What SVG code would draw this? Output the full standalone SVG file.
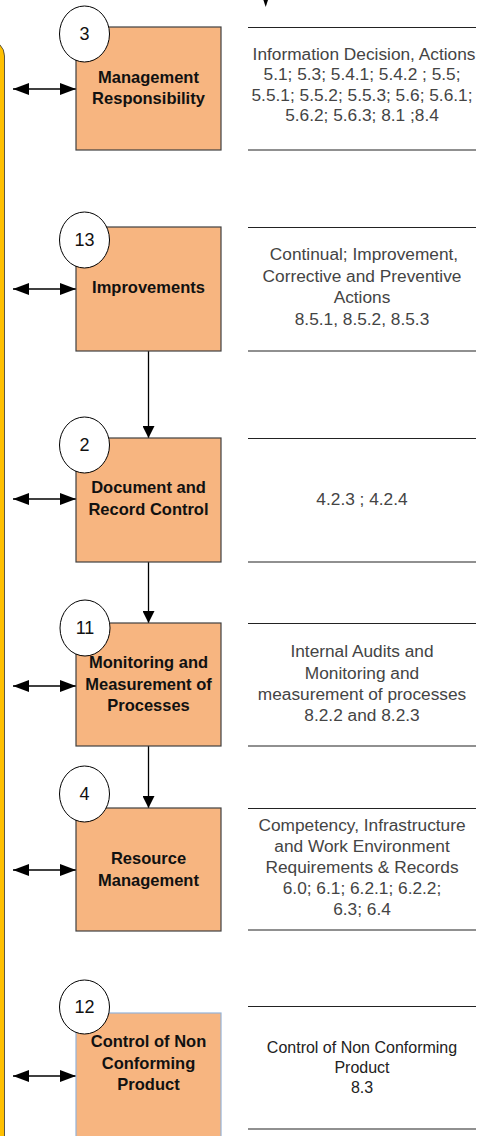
<svg xmlns="http://www.w3.org/2000/svg" width="483" height="1136" viewBox="0 0 483 1136">
<style>
.box{fill:#F7B580;stroke:#404040;stroke-width:1.2}
.num{fill:#fff;stroke:#000;stroke-width:1}
.numt{font-family:"Liberation Sans",Arial,sans-serif;font-size:18px;fill:#111;text-anchor:middle}
.bt{font-family:"Liberation Sans",Arial,sans-serif;font-size:16.5px;font-weight:bold;fill:#111;text-anchor:middle}
.rt{font-family:"Liberation Sans",Arial,sans-serif;font-size:17.3px;fill:#444;text-anchor:middle}
.rt2{font-family:"Liberation Sans",Arial,sans-serif;font-size:16px;fill:#222;text-anchor:middle}
.sep{stroke:#222;stroke-width:1.2}
.con{stroke:#000;stroke-width:1.3;fill:none}
</style>
<defs>
<marker id="ah" viewBox="0 0 16 12" refX="16" refY="6" markerWidth="16" markerHeight="12" markerUnits="userSpaceOnUse" orient="auto-start-reverse">
<path d="M0,0 L16,6 L0,12 Z" fill="#000"/>
</marker>
<marker id="av" viewBox="0 0 12 12" refX="12" refY="6" markerWidth="12" markerHeight="12" markerUnits="userSpaceOnUse" orient="auto">
<path d="M0,0 L12,6 L0,12 Z" fill="#000"/>
</marker>
</defs>
<rect id="frame" x="-60" y="40" width="64.5" height="1150" rx="16" fill="#FFC000" stroke="#333" stroke-width="0.8"/>
<g id="connectors">
<path d="M265.7,-5 V1" class="con"/>
<path d="M263.4,0 L268,0 L265.7,7 Z" fill="#000"/>
<line x1="13" y1="89" x2="76" y2="89" class="con" marker-start="url(#ah)" marker-end="url(#ah)"/>
<line x1="13" y1="289" x2="76" y2="289" class="con" marker-start="url(#ah)" marker-end="url(#ah)"/>
<line x1="13" y1="499" x2="76" y2="499" class="con" marker-start="url(#ah)" marker-end="url(#ah)"/>
<line x1="13" y1="686" x2="76" y2="686" class="con" marker-start="url(#ah)" marker-end="url(#ah)"/>
<line x1="13" y1="870" x2="76" y2="870" class="con" marker-start="url(#ah)" marker-end="url(#ah)"/>
<line x1="13" y1="1076" x2="76" y2="1076" class="con" marker-start="url(#ah)" marker-end="url(#ah)"/>
<line x1="148.5" y1="351" x2="148.5" y2="438" class="con" marker-end="url(#av)"/>
<line x1="148.5" y1="562" x2="148.5" y2="623" class="con" marker-end="url(#av)"/>
<line x1="148.5" y1="746" x2="148.5" y2="808" class="con" marker-end="url(#av)"/>
</g>
<g id="n3">
<rect class="box" x="76" y="27" width="145" height="123"/>
<ellipse class="num" cx="84.5" cy="34" rx="25" ry="28"/>
<text class="numt" x="84.5" y="40">3</text>
<text class="bt" x="148.5" y="83">Management</text>
<text class="bt" x="148.5" y="104">Responsibility</text>
</g>
<g id="d3">
<line class="sep" x1="248" y1="27.5" x2="476" y2="27.5"/>
<line class="sep" x1="248" y1="150" x2="476" y2="150"/>
<text class="rt" x="364" y="59.5">Information Decision, Actions</text>
<text class="rt" x="362" y="80">5.1; 5.3; 5.4.1; 5.4.2 ; 5.5;</text>
<text class="rt" x="362" y="100.5">5.5.1; 5.5.2; 5.5.3; 5.6; 5.6.1;</text>
<text class="rt" x="362" y="121">5.6.2; 5.6.3; 8.1 ;8.4</text>
</g>
<g id="n13">
<rect class="box" x="76" y="227" width="145" height="124"/>
<ellipse class="num" cx="84.5" cy="240" rx="25" ry="28"/>
<text class="numt" x="84.5" y="246">13</text>
<text class="bt" x="148.5" y="293">Improvements</text>
</g>
<g id="d13">
<line class="sep" x1="248" y1="227.5" x2="476" y2="227.5"/>
<line class="sep" x1="248" y1="351" x2="476" y2="351"/>
<text class="rt" x="364" y="260">Continual; Improvement,</text>
<text class="rt" x="362" y="282">Corrective and Preventive</text>
<text class="rt" x="362" y="303">Actions</text>
<text class="rt" x="362" y="325">8.5.1, 8.5.2, 8.5.3</text>
</g>
<g id="n2">
<rect class="box" x="76" y="438" width="145" height="124"/>
<ellipse class="num" cx="84.5" cy="445" rx="25" ry="28"/>
<text class="numt" x="84.5" y="451">2</text>
<text class="bt" x="148.5" y="493">Document and</text>
<text class="bt" x="148.5" y="514.5">Record Control</text>
</g>
<g id="d2">
<line class="sep" x1="248" y1="438.5" x2="476" y2="438.5"/>
<line class="sep" x1="248" y1="562" x2="476" y2="562"/>
<text class="rt" x="362" y="505">4.2.3 ; 4.2.4</text>
</g>
<g id="n11">
<rect class="box" x="76" y="623" width="145" height="123"/>
<ellipse class="num" cx="85" cy="628" rx="25" ry="28"/>
<text class="numt" x="85" y="634">11</text>
<text class="bt" x="148.5" y="668">Monitoring and</text>
<text class="bt" x="148.5" y="690">Measurement of</text>
<text class="bt" x="148.5" y="711">Processes</text>
</g>
<g id="d11">
<line class="sep" x1="248" y1="623.5" x2="476" y2="623.5"/>
<line class="sep" x1="248" y1="746" x2="476" y2="746"/>
<text class="rt" x="362" y="657">Internal Audits and</text>
<text class="rt" x="362" y="679">Monitoring and</text>
<text class="rt" x="362" y="700">measurement of processes</text>
<text class="rt" x="362" y="721">8.2.2 and 8.2.3</text>
</g>
<g id="n4">
<rect class="box" x="76" y="808" width="145" height="123"/>
<ellipse class="num" cx="84.5" cy="794" rx="25" ry="28"/>
<text class="numt" x="84.5" y="800">4</text>
<text class="bt" x="148.5" y="864">Resource</text>
<text class="bt" x="148.5" y="886">Management</text>
</g>
<g id="d4">
<line class="sep" x1="248" y1="808.5" x2="476" y2="808.5"/>
<line class="sep" x1="248" y1="930" x2="476" y2="930"/>
<text class="rt" x="362" y="831">Competency, Infrastructure</text>
<text class="rt" x="362" y="852">and Work Environment</text>
<text class="rt" x="362" y="873">Requirements &amp; Records</text>
<text class="rt" x="362" y="894">6.0; 6.1; 6.2.1; 6.2.2;</text>
<text class="rt" x="362" y="915">6.3; 6.4</text>
</g>
<g id="n12">
<rect x="76" y="1013" width="145" height="140" fill="#F7B580" stroke="#95B3D7" stroke-width="1.2"/>
<ellipse class="num" cx="84.5" cy="1007" rx="25" ry="27"/>
<text class="numt" x="84.5" y="1013">12</text>
<text class="bt" x="148.5" y="1047">Control of Non</text>
<text class="bt" x="148.5" y="1068.5">Conforming</text>
<text class="bt" x="148.5" y="1090">Product</text>
</g>
<g id="d12">
<line class="sep" x1="248" y1="1006.5" x2="476" y2="1006.5"/>
<line class="sep" x1="248" y1="1129" x2="476" y2="1129"/>
<text class="rt2" x="362" y="1053">Control of Non Conforming</text>
<text class="rt2" x="362" y="1073">Product</text>
<text class="rt2" x="362" y="1093">8.3</text>
</g>
</svg>
